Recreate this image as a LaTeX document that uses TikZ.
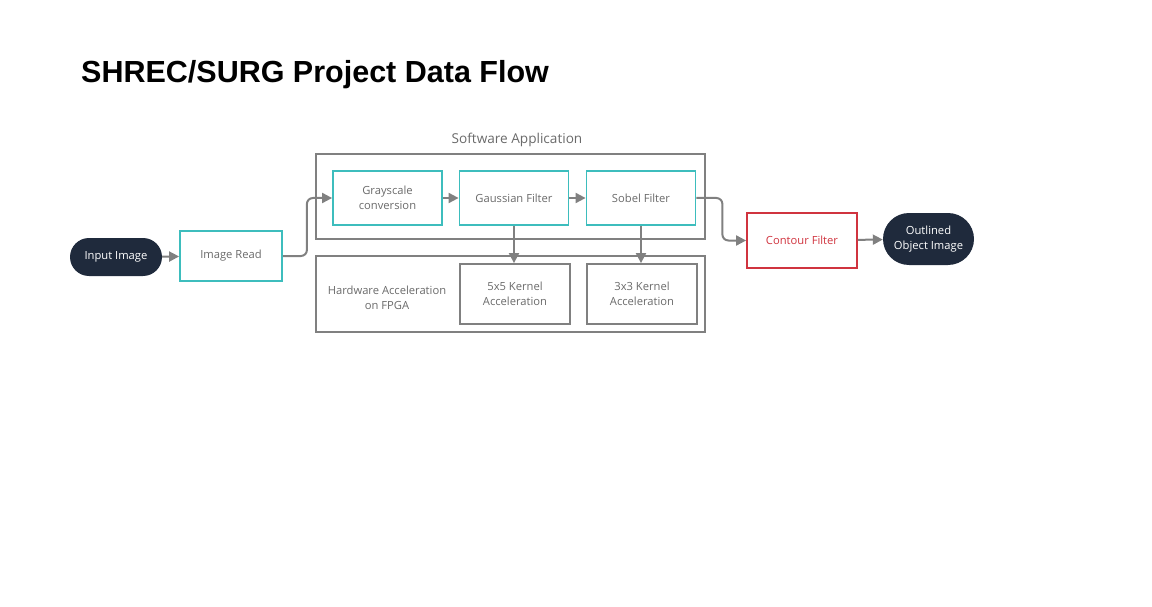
\documentclass[tikz,border=0pt]{standalone}
\usepackage{fontspec}
\setmainfont{Open Sans}
\newfontfamily\titlefont{Liberation Sans}
\usetikzlibrary{arrows.meta}
\definecolor{navy}{HTML}{1F2A3C}
\definecolor{tealline}{HTML}{3DBDBD}
\definecolor{redline}{HTML}{D0343F}
\definecolor{grayline}{HTML}{808080}
\definecolor{graytext}{HTML}{6A6A6A}

\begin{document}
\begin{tikzpicture}[x=1pt,y=-1pt,
  stepbox/.style={draw=tealline, line width=1.8pt, minimum width=109pt, minimum height=54pt,
    inner sep=0pt, align=center, text=graytext, font=\fontsize{11.2}{15}\selectfont},
  group/.style={draw=grayline, line width=1.8pt, inner sep=0pt},
  kernel/.style={draw=grayline, line width=1.8pt, minimum width=110pt, minimum height=60pt,
    inner sep=0pt, align=center, text=graytext, font=\fontsize{11.2}{15}\selectfont},
  pill/.style={fill=navy, text=white, inner sep=0pt, align=center, font=\fontsize{11.2}{15}\selectfont},
  link/.style={draw=grayline, line width=2pt, rounded corners=6pt,
    -{Triangle[length=10pt,width=10pt]}}]
  \useasboundingbox (0,0) rectangle (1152,607);

  \node (title) [anchor=base west, inner sep=0pt, font=\titlefont\bfseries\fontsize{30.5}{34}\selectfont]
    at (81,83) {SHREC/SURG Project Data Flow};

  % containers
  \node (sw) [group, minimum width=389pt, minimum height=85pt] at (510.5,196.5) {};
  \node (swlabel) [text=graytext, font=\fontsize{13.6}{16}\selectfont] at (517,139.5) {Software Application};
  \node (hw) [group, minimum width=389pt, minimum height=76pt] at (510.5,294) {};
  \node (hwlabel) [align=center, text=graytext, font=\fontsize{11.2}{15}\selectfont]
    at (387,298) {Hardware Acceleration\\on FPGA};

  % steps
  \node (input) [pill, minimum width=92pt, minimum height=38pt, rounded corners=19pt] at (116,257) {Input Image};
  \node (read) [stepbox, minimum width=102pt, minimum height=50pt] at (231,256) {Image Read};
  \node (gray) [stepbox] at (387.5,198) {Grayscale\\conversion};
  \node (gauss) [stepbox] at (514,198) {Gaussian Filter};
  \node (sobel) [stepbox] at (641,198) {Sobel Filter};
  \node (k5) [kernel] at (515,294) {5x5 Kernel\\Acceleration};
  \node (k3) [kernel] at (642,294) {3x3 Kernel\\Acceleration};
  \node (contour) [stepbox, draw=redline, text=redline, minimum width=110pt, minimum height=55pt] at (802,240.5) {Contour Filter};
  \node (outlined) [pill, minimum width=91pt, minimum height=52pt, rounded corners=26pt] at (928.5,239) {Outlined\\Object Image};

  % flow
  \draw[link] (input) -- (read);
  \draw[link] (read.east) -- ++(24,0) |- (gray.west);
  \draw[link] (gray) -- (gauss);
  \draw[link] (gauss) -- (sobel);
  \draw[link] (gauss.south) -- (gauss.south |- k5.north);
  \draw[link] (sobel.south) -- (sobel.south |- k3.north);
  \draw[link] (sobel.east) -- ++(26,0) |- (contour.west);
  \draw[link] (contour) -- (outlined);
\end{tikzpicture}
\end{document}
